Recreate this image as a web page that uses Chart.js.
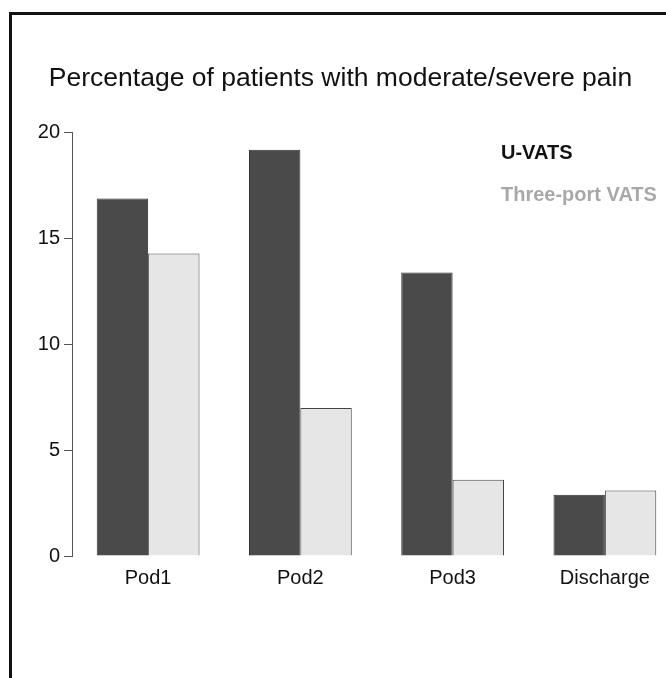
<!DOCTYPE html>
<html>
<head>
<meta charset="utf-8">
<script src="https://cdn.jsdelivr.net/npm/chart.js@4"></script>
<style>
  html, body { margin: 0; padding: 0; background: #fff; overflow: hidden; }
  #wrap { position: absolute; left: 0; top: 0; width: 681px; height: 678px; }
  #frame { position: absolute; left: 9px; top: 12px; width: 720px; height: 720px;
           border-left: 3px solid #111; border-top: 3px solid #111; pointer-events: none; }
</style>
</head>
<body>
<div id="wrap"><canvas id="myChart"></canvas></div>
<div id="frame"></div>
<script>
// データ
var categories = ['Pod1', 'Pod2', 'Pod3', 'Discharge'];
var uvats_values = [16.9, 19.2, 13.4, 2.9];
var threeport_values = [14.3, 7.0, 3.6, 3.1];
var y_ticks = [0, 5, 10, 15, 20];

var font_family = "'Liberation Sans', Arial, Helvetica, sans-serif";

// 凡例は色の四角なしで、文字の色だけで見せる
var text_legend = {
    id: 'text_legend',
    afterDraw: function(chart){
        var ctx = chart.ctx;
        var colors = ['#111111', '#a8a8a8'];
        ctx.save();
        ctx.font = 'bold 20px ' + font_family;
        ctx.textAlign = 'left';
        ctx.textBaseline = 'middle';
        chart.data.datasets.forEach(function(ds, i){
            ctx.fillStyle = colors[i];
            ctx.fillText(ds.label, 501, 153 + i * 42);
        });
        ctx.restore();
    }
};

var ctx = document.getElementById('myChart');
var chart = new Chart(ctx, {
    type: 'bar',
    data: {
        labels: categories,
        datasets: [{
            label: 'U-VATS',
            data: uvats_values,
            backgroundColor: '#4a4a4a',
            borderColor: '#333333',
            borderWidth: 1
        }, {
            label: 'Three-port VATS',
            data: threeport_values,
            backgroundColor: '#e6e6e6',
            borderColor: '#444444',
            borderWidth: 1
        }]
    },
    options: {
        responsive: true,
        maintainAspectRatio: false,
        animation: false,
        layout: { padding: { left: 0, right: 0, top: 0, bottom: 0 } },
        datasets: {
            bar: { categoryPercentage: 0.675, barPercentage: 1.0 }
        },
        plugins: {
            legend: { display: false },
            tooltip: { enabled: false },
            title: {
                display: true,
                text: 'Percentage of patients with moderate/severe pain',
                color: '#111111',
                font: { family: font_family, size: 26.5, weight: 'normal' },
                padding: { top: 63, bottom: 38 }
            }
        },
        scales: {
            x: {
                grid: { display: false, drawTicks: false },
                border: { display: false },
                ticks: {
                    color: '#111111',
                    padding: 10,
                    font: { family: font_family, size: 20 }
                },
                afterFit: function(scale){ scale.height = 122; }
            },
            y: {
                min: 0,
                max: 20,
                afterBuildTicks: function(scale){
                    scale.ticks = y_ticks.map(function(v){ return { value: v }; });
                },
                grid: { drawOnChartArea: false, drawTicks: true, tickLength: 8, color: '#555555' },
                border: { display: true, color: '#555555', width: 1 },
                ticks: {
                    color: '#111111',
                    padding: 4,
                    font: { family: font_family, size: 20 }
                },
                afterFit: function(scale){ scale.width = 72; }
            }
        }
    },
    plugins: [text_legend]
});
</script>
</body>
</html>
